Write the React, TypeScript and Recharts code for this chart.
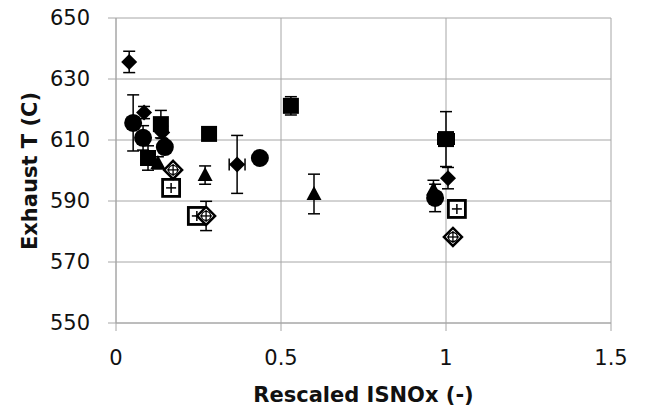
import { ScatterChart, Scatter, XAxis, YAxis, CartesianGrid, ErrorBar, Label } from 'recharts'

const xTicks = [0, 0.5, 1, 1.5]
const yTicks = [550, 570, 590, 610, 630, 650]

// filled diamonds
const diamondX = [0.04, 0.085, 0.14, 0.367, 1.006]
const diamondY = [635.6, 619, 612.5, 602, 597.5]
const diamondErrY = [3.5, 2, 2, 9.5, 3.5]
const diamondErrX = [0, 0, 0, 0.024, 0]

// filled squares
const squareX = [0.136, 0.097, 0.282, 0.53, 1.0]
const squareY = [615.2, 604.1, 612, 621.2, 610.3]
const squareErrY = [4.5, 4, 0, 3, 9]
const squareErrX = [0, 0, 0, 0, 0.025]

// filled triangles
const triangleX = [0.127, 0.27, 0.6, 0.962]
const triangleY = [602.5, 598.5, 592.3, 593.8]
const triangleErrY = [2, 3, 6.5, 3]

// filled circles
const circleX = [0.052, 0.082, 0.148, 0.436, 0.967]
const circleY = [615.6, 610.7, 607.7, 604.1, 591]
const circleErrY = [9.2, 4, 0, 0, 4.5]

// open squares with plus
const openSquareX = [0.167, 0.245, 1.033]
const openSquareY = [594.3, 585.1, 587.4]

// open diamonds with plus
const openDiamondX = [0.173, 0.273, 1.021]
const openDiamondY = [600.2, 585.1, 578.2]
const openDiamondErrY = [0, 4.8, 0]

const toPoints = (xs: number[], ys: number[], ey: number[] = [], ex: number[] = []) =>
  xs.map((x, i) => ({ x, y: ys[i], ey: ey[i] ?? 0, ex: ex[i] ?? 0 }))

const FilledDiamond = (p: any) => {
  const { cx, cy } = p
  const r = 8
  return <path d={`M${cx},${cy - r}L${cx + r},${cy}L${cx},${cy + r}L${cx - r},${cy}Z`} fill="#000" />
}

const FilledSquare = (p: any) => {
  const { cx, cy } = p
  return <rect x={cx - 8} y={cy - 8} width={16} height={16} fill="#000" />
}

const FilledTriangle = (p: any) => {
  const { cx, cy } = p
  return <path d={`M${cx},${cy - 8}L${cx + 7.5},${cy + 6}L${cx - 7.5},${cy + 6}Z`} fill="#000" />
}

const FilledCircle = (p: any) => {
  const { cx, cy } = p
  return <circle cx={cx} cy={cy} r={9} fill="#000" />
}

const OpenSquarePlus = (p: any) => {
  const { cx, cy } = p
  return (
    <g>
      <rect x={cx - 8.5} y={cy - 8.5} width={17} height={17} fill="#fff" stroke="#000" strokeWidth={2.8} />
      <line x1={cx - 5} y1={cy} x2={cx + 5} y2={cy} stroke="#000" strokeWidth={1.5} />
      <line x1={cx} y1={cy - 5} x2={cx} y2={cy + 5} stroke="#000" strokeWidth={1.5} />
    </g>
  )
}

const OpenDiamondPlus = (p: any) => {
  const { cx, cy } = p
  const r = 9
  return (
    <g>
      <path d={`M${cx},${cy - r}L${cx + r},${cy}L${cx},${cy + r}L${cx - r},${cy}Z`} fill="#fff" stroke="#000" strokeWidth={2.5} />
      <circle cx={cx} cy={cy} r={4.5} fill="none" stroke="#000" strokeWidth={1.3} />
      <line x1={cx - 6} y1={cy} x2={cx + 6} y2={cy} stroke="#000" strokeWidth={1.3} />
      <line x1={cx} y1={cy - 6} x2={cx} y2={cy + 6} stroke="#000" strokeWidth={1.3} />
    </g>
  )
}

const gridColor = '#a6a6a6'
const font = '"DejaVu Sans", sans-serif'
const tickStyle = { fill: '#111', fontSize: 21, fontFamily: font }

const YTitle = () => (
  <text
    x={37}
    y={171}
    transform="rotate(-90, 37, 171)"
    textAnchor="middle"
    fontFamily={font}
    fontWeight="bold"
    fontSize={21}
    fill="#111"
  >
    Exhaust T (C)
  </text>
)

export default function App() {
  return (
    <div style={{ position: 'absolute', left: 0, top: 0, background: '#fff' }}>
      <ScatterChart width={646} height={411} margin={{ top: 18, right: 35, bottom: 0, left: 0 }}>
        <CartesianGrid stroke={gridColor} strokeWidth={1} />
        <XAxis
          type="number"
          dataKey="x"
          domain={[0, 1.5]}
          ticks={xTicks}
          height={88}
          tickSize={8}
          tickMargin={19}
          stroke={gridColor}
          tick={tickStyle}
          allowDataOverflow
        >
          <Label
            value="Rescaled ISNOx (-)"
            position="insideBottom"
            offset={9}
            style={{ fontFamily: font, fontWeight: 'bold', fontSize: 21, fill: '#111' }}
          />
        </XAxis>
        <YAxis
          type="number"
          dataKey="y"
          domain={[550, 650]}
          ticks={yTicks}
          width={116}
          tickSize={8}
          tickMargin={18}
          stroke={gridColor}
          tick={tickStyle}
          allowDataOverflow
        >
          <Label content={() => <YTitle />} />
        </YAxis>
        <Scatter data={toPoints(diamondX, diamondY, diamondErrY, diamondErrX)} shape={FilledDiamond} isAnimationActive={false}>
          <ErrorBar dataKey="ey" direction="y" width={6} stroke="#000" strokeWidth={1.5} />
          <ErrorBar dataKey="ex" direction="x" width={6} stroke="#000" strokeWidth={1.5} />
        </Scatter>
        <Scatter data={toPoints(squareX, squareY, squareErrY, squareErrX)} shape={FilledSquare} isAnimationActive={false}>
          <ErrorBar dataKey="ey" direction="y" width={6} stroke="#000" strokeWidth={1.5} />
          <ErrorBar dataKey="ex" direction="x" width={6} stroke="#000" strokeWidth={1.5} />
        </Scatter>
        <Scatter data={toPoints(triangleX, triangleY, triangleErrY)} shape={FilledTriangle} isAnimationActive={false}>
          <ErrorBar dataKey="ey" direction="y" width={6} stroke="#000" strokeWidth={1.5} />
        </Scatter>
        <Scatter data={toPoints(circleX, circleY, circleErrY)} shape={FilledCircle} isAnimationActive={false}>
          <ErrorBar dataKey="ey" direction="y" width={6} stroke="#000" strokeWidth={1.5} />
        </Scatter>
        <Scatter data={toPoints(openSquareX, openSquareY)} shape={OpenSquarePlus} isAnimationActive={false} />
        <Scatter data={toPoints(openDiamondX, openDiamondY, openDiamondErrY)} shape={OpenDiamondPlus} isAnimationActive={false}>
          <ErrorBar dataKey="ey" direction="y" width={6} stroke="#000" strokeWidth={1.5} />
        </Scatter>
      </ScatterChart>
    </div>
  )
}
